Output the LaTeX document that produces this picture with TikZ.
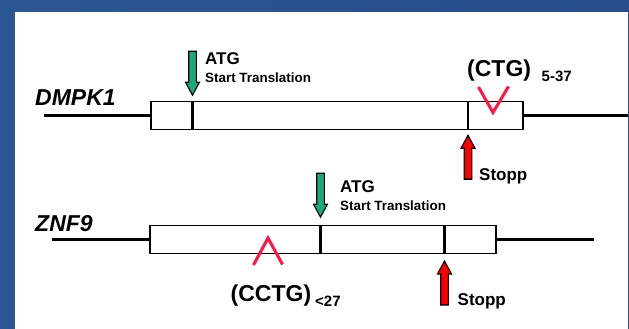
\documentclass[tikz,border=0pt]{standalone}
\usepackage{fontspec}
\setmainfont{Liberation Sans}
\definecolor{slideblueL}{RGB}{44,86,146}
\definecolor{slideblueM}{RGB}{16,56,128}
\definecolor{slideblueR}{RGB}{40,78,140}
\definecolor{atggreen}{RGB}{26,168,124}
\definecolor{stopred}{RGB}{250,0,0}
\definecolor{repeatred}{RGB}{255,22,72}
\tikzset{
  pics/blockarrow/.style={code={
    \draw[pic actions] (0,0) -- (-7,-13) -- (-3.8,-13) -- (-3.8,-44)
      -- (3.8,-44) -- (3.8,-13) -- (7,-13) -- cycle;}},
  dnaline/.style={line width=2.8pt},
  genebox/.style={draw=black, line width=1.4pt, fill=white, rectangle,
    inner sep=0, outer sep=0},
  divider/.style={line width=2.8pt},
  repeatmark/.style={draw=repeatred, line width=3pt},
  startarrow/.style={draw=black, fill=atggreen, line width=1.1pt},
  stoparrow/.style={draw=black, fill=stopred, line width=1.1pt},
  genelabel/.style={font=\fontsize{23}{26}\selectfont\bfseries\itshape,
    anchor=base west, inner sep=0},
  biglabel/.style={font=\fontsize{17}{20}\selectfont\bfseries,
    anchor=base west, inner sep=0},
  smalllabel/.style={font=\fontsize{13.4}{16}\selectfont\bfseries,
    anchor=base west, inner sep=0},
  repeatlabel/.style={font=\fontsize{23}{26}\selectfont\bfseries,
    anchor=base west, inner sep=0},
  countlabel/.style={font=\fontsize{15}{18}\selectfont\bfseries,
    anchor=base west, inner sep=0},
}
\begin{document}
\begin{tikzpicture}[x=1pt,y=-1pt]
\useasboundingbox (0,0) rectangle (629,329);
% slide background and white panel
\shade[left color=slideblueL, middle color=slideblueM, right color=slideblueR]
  (0,0) rectangle (629,329);
\fill[white] (15,12) rectangle (627.5,330);

% ---------------- DMPK1 ----------------
\node[genelabel] (dname) at (35,105) {DMPK1};
\node[genebox, minimum width=372pt, minimum height=27.5pt] (dbox) at (337,115.5) {};
\coordinate (dL) at (44,115.5);
\coordinate (dR) at (628,115.5);
\draw[dnaline] (dL) -- (dbox.west);
\draw[dnaline] (dbox.east) -- (dR);
\coordinate (datg) at (192.5,0);
\coordinate (dstop) at (468,0);
\draw[divider] (dbox.north -| datg) -- (dbox.south -| datg);
\draw[divider] (dbox.north -| dstop) -- (dbox.south -| dstop);
% block arrows: tip sits just off the box edge
\pic[startarrow] at ([yshift=6.5pt]dbox.north -| datg) {blockarrow};
\pic[stoparrow, rotate=180] at ([yshift=-6pt]dbox.south -| dstop) {blockarrow};
\node[biglabel] (datgt) at (205,65) {ATG};
\node[smalllabel] (dstart) at (205,82) {Start Translation};
\node[biglabel] (dstopt) at (479,180) {Stopp};
% CTG repeat insertion
\coordinate (dvL) at (478.5,87);
\coordinate (dvB) at (493,112.5);
\coordinate (dvR) at (508.5,86.5);
\draw[repeatmark] (dvL) -- (dvB) -- (dvR);
\node[repeatlabel] (dctg) at (467,76.5) {(CTG)};
\node[countlabel] (dcount) at (541.5,81.7) {5-37};

% ---------------- ZNF9 ----------------
\node[genelabel] (zname) at (35,231.5) {ZNF9};
\node[genebox, minimum width=346pt, minimum height=27.6pt] (zbox) at (323,239.5) {};
\coordinate (zL) at (52,239.5);
\coordinate (zR) at (593.5,239.5);
\draw[dnaline] (zL) -- (zbox.west);
\draw[dnaline] (zbox.east) -- (zR);
\coordinate (zatg) at (320.5,0);
\coordinate (zstop) at (444.5,0);
\draw[divider] (zbox.north -| zatg) -- (zbox.south -| zatg);
\draw[divider] (zbox.north -| zstop) -- (zbox.south -| zstop);
\pic[startarrow] at ([yshift=8.5pt]zbox.north -| zatg) {blockarrow};
\pic[stoparrow, rotate=180] at ([yshift=-7.7pt]zbox.south -| zstop) {blockarrow};
\node[biglabel] (zatgt) at (340,192) {ATG};
\node[smalllabel] (zstart) at (340,210) {Start Translation};
\node[biglabel] (zstopt) at (457.5,305) {Stopp};
% CCTG repeat insertion
\coordinate (zvL) at (253.5,265);
\coordinate (zvT) at (268,238);
\coordinate (zvR) at (282.5,264.5);
\draw[repeatmark] (zvL) -- (zvT) -- (zvR);
\node[repeatlabel] (zcctg) at (230.5,301.5) {(CCTG)};
\node[countlabel] (zcount) at (315,306.5) {<27};
\end{tikzpicture}
\end{document}
